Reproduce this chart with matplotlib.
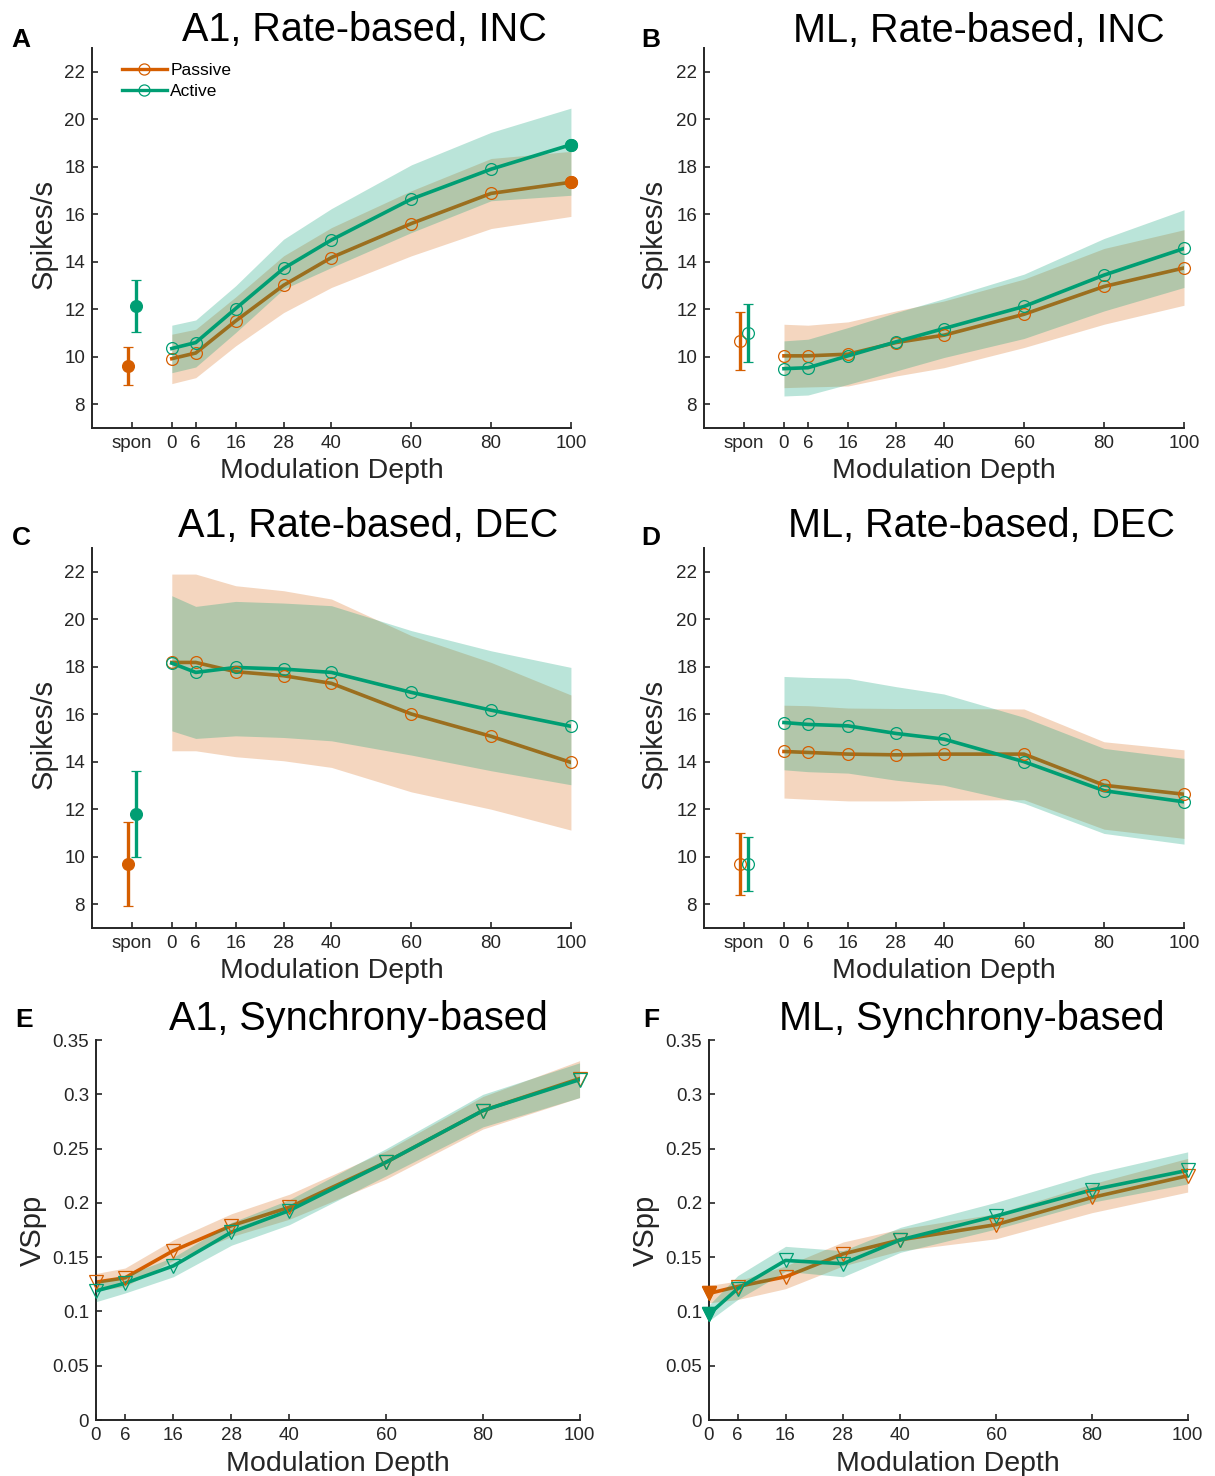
import matplotlib.pyplot as plt
from matplotlib.lines import Line2D

plt.rcParams['font.family'] = ['Liberation Sans', 'DejaVu Sans']

# colours
PASSIVE = '#d55e00'
ACTIVE = '#009e73'
INK = '#262626'

# modulation depths (%)
depth = [0, 6, 16, 28, 40, 60, 80, 100]
rate_ticks = [-10, 0, 6, 16, 28, 40, 60, 80, 100]
rate_ticklabels = ['spon', '0', '6', '16', '28', '40', '60', '80', '100']
sync_ticklabels = ['0', '6', '16', '28', '40', '60', '80', '100']

# --- A: A1, rate-based, INC ---
a_pas = [9.92, 10.16, 11.51, 13.01, 14.18, 15.61, 16.88, 17.35]
a_pas_lo = [8.87, 9.12, 10.46, 11.86, 12.92, 14.25, 15.40, 15.91]
a_pas_hi = [10.95, 11.16, 12.52, 14.25, 15.44, 16.99, 18.35, 18.65]
a_act = [10.35, 10.60, 12.03, 13.72, 14.92, 16.64, 17.90, 18.93]
a_act_lo = [9.33, 9.57, 11.02, 12.85, 13.76, 15.23, 16.57, 16.80]
a_act_hi = [11.33, 11.55, 12.99, 14.95, 16.24, 18.08, 19.45, 20.47]
a_spon_pas = [9.62, 8.83, 10.42]   # mean, low, high
a_spon_act = [12.12, 11.06, 13.23]

# --- B: ML, rate-based, INC ---
b_pas = [10.04, 10.04, 10.11, 10.60, 10.91, 11.79, 12.96, 13.74]
b_pas_lo = [8.70, 8.73, 8.77, 9.19, 9.54, 10.39, 11.37, 12.17]
b_pas_hi = [11.37, 11.33, 11.47, 11.93, 12.35, 13.27, 14.56, 15.35]
b_act = [9.50, 9.54, 10.04, 10.63, 11.19, 12.12, 13.44, 14.56]
b_act_lo = [8.35, 8.39, 8.84, 9.40, 9.97, 10.77, 11.93, 12.92]
b_act_hi = [10.67, 10.74, 11.23, 11.86, 12.45, 13.48, 14.98, 16.19]
b_spon_pas = [10.65, 9.45, 11.90]
b_spon_act = [11.02, 9.78, 12.24]

# --- C: A1, rate-based, DEC ---
c_pas = [18.18, 18.18, 17.79, 17.62, 17.30, 16.01, 15.07, 13.97]
c_pas_lo = [14.46, 14.46, 14.21, 14.04, 13.76, 12.73, 12.00, 11.12]
c_pas_hi = [21.90, 21.90, 21.41, 21.20, 20.85, 19.31, 18.18, 16.81]
c_act = [18.15, 17.76, 17.97, 17.90, 17.76, 16.92, 16.17, 15.49]
c_act_lo = [15.30, 14.98, 15.09, 15.02, 14.88, 14.28, 13.62, 13.03]
c_act_hi = [20.99, 20.54, 20.75, 20.68, 20.57, 19.52, 18.67, 17.97]
c_spon_pas = [9.69, 7.93, 11.48]
c_spon_act = [11.79, 9.97, 13.62]

# --- D: ML, rate-based, DEC ---
d_pas = [14.43, 14.39, 14.32, 14.29, 14.32, 14.32, 13.01, 12.63]
d_pas_lo = [12.47, 12.42, 12.35, 12.35, 12.38, 12.40, 11.16, 10.77]
d_pas_hi = [16.38, 16.36, 16.26, 16.24, 16.24, 16.22, 14.84, 14.50]
d_act = [15.65, 15.57, 15.51, 15.19, 14.95, 14.00, 12.78, 12.31]
d_act_lo = [13.66, 13.58, 13.52, 13.22, 13.01, 12.25, 10.98, 10.53]
d_act_hi = [17.59, 17.55, 17.51, 17.16, 16.85, 15.87, 14.56, 14.14]
d_spon_pas = [9.68, 8.40, 10.98]
d_spon_act = [9.70, 8.56, 10.84]

# --- E: A1, synchrony-based ---
e_pas = [0.127, 0.131, 0.156, 0.179, 0.196, 0.2375, 0.285, 0.3145]
e_pas_lo = [0.119, 0.123, 0.147, 0.169, 0.185, 0.222, 0.268, 0.297]
e_pas_hi = [0.135, 0.140, 0.166, 0.190, 0.208, 0.248, 0.298, 0.331]
e_act = [0.119, 0.126, 0.142, 0.173, 0.193, 0.2375, 0.285, 0.3135]
e_act_lo = [0.109, 0.117, 0.132, 0.161, 0.180, 0.225, 0.270, 0.297]
e_act_hi = [0.128, 0.133, 0.150, 0.182, 0.203, 0.250, 0.300, 0.329]

# --- F: ML, synchrony-based ---
f_pas = [0.1166, 0.123, 0.132, 0.153, 0.166, 0.180, 0.205, 0.225]
f_pas_lo = [0.108, 0.111, 0.121, 0.142, 0.156, 0.167, 0.191, 0.210]
f_pas_hi = [0.124, 0.128, 0.142, 0.164, 0.176, 0.190, 0.2175, 0.241]
f_act = [0.0975, 0.121, 0.147, 0.144, 0.166, 0.188, 0.212, 0.230]
f_act_lo = [0.0914, 0.111, 0.137, 0.132, 0.1545, 0.176, 0.2006, 0.2175]
f_act_hi = [0.106, 0.133, 0.160, 0.156, 0.1775, 0.2006, 0.2268, 0.247]


def draw_panel(ax, pas, pas_lo, pas_hi, act, act_lo, act_hi, marker, ms,
               filled=(), spon_pas=None, spon_act=None, spon_filled=False):
    # passive band + line, then active band over it (MATLAB-like stacking)
    ax.fill_between(depth, pas_lo, pas_hi, color=PASSIVE, alpha=0.25, lw=0, zorder=1)
    ax.plot(depth, pas, color=PASSIVE, lw=2.6, zorder=2)
    ax.fill_between(depth, act_lo, act_hi, color=ACTIVE, alpha=0.27, lw=0, zorder=3)
    ax.plot(depth, act, color=ACTIVE, lw=2.6, zorder=4)
    for vals, col in [(pas, PASSIVE), (act, ACTIVE)]:
        ax.plot(depth, vals, ls='none', marker=marker, ms=ms, mfc='none',
                mec=col, mew=0.9, zorder=5, clip_on=False)
        for i in filled:
            ax.plot([depth[i]], [vals[i]], ls='none', marker=marker, ms=ms,
                    mfc=col, mec=col, zorder=6, clip_on=False)
    if spon_pas is not None:
        for xs, sp, col in [(-11, spon_pas, PASSIVE), (-9, spon_act, ACTIVE)]:
            ax.errorbar([xs], [sp[0]], yerr=[[sp[0] - sp[1]], [sp[2] - sp[0]]],
                        fmt='o', ms=ms, color=col, mfc=col if spon_filled else 'none',
                        mec=col, mew=0.9, elinewidth=2.4, capsize=3.5, capthick=2.4,
                        zorder=6)
        ax.set_xlim(-20, 100)
        ax.set_xticks(rate_ticks)
        ax.set_xticklabels(rate_ticklabels)
        ax.set_ylim(7, 23)
        ax.set_yticks(range(8, 23, 2))
        ax.set_ylabel('Spikes/s', fontsize=21, color=INK)
    else:
        ax.set_xlim(0, 100)
        ax.set_xticks(depth)
        ax.set_xticklabels(sync_ticklabels)
        ax.set_ylim(0, 0.35)
        ax.set_yticks([0, 0.05, 0.1, 0.15, 0.2, 0.25, 0.3, 0.35])
        ax.set_yticklabels(['0', '0.05', '0.1', '0.15', '0.2', '0.25', '0.3', '0.35'])
        ax.set_ylabel('VSpp', fontsize=21, color=INK)
    ax.set_xlabel('Modulation Depth', fontsize=20.5, color=INK)
    for s in ['top', 'right']:
        ax.spines[s].set_visible(False)
    for s in ['left', 'bottom']:
        ax.spines[s].set_linewidth(1.4)
        ax.spines[s].set_color(INK)
    ax.tick_params(direction='in', length=4, width=1.2, colors=INK,
                   labelsize=13.5, pad=5)


fig = plt.figure(figsize=(12.15, 14.76), dpi=100)
H = 380 / 1476
axA = fig.add_axes([0.0757, 0.7100, 0.3942, H])
axB = fig.add_axes([0.5794, 0.7100, 0.3951, H])
axC = fig.add_axes([0.0757, 0.3713, 0.3942, H])
axD = fig.add_axes([0.5794, 0.3713, 0.3951, H])
axE = fig.add_axes([0.0790, 0.0379, 0.3980, H])
axF = fig.add_axes([0.5835, 0.0379, 0.3940, H])

draw_panel(axA, a_pas, a_pas_lo, a_pas_hi, a_act, a_act_lo, a_act_hi, 'o', 8.5,
           filled=[7], spon_pas=a_spon_pas, spon_act=a_spon_act, spon_filled=True)
draw_panel(axB, b_pas, b_pas_lo, b_pas_hi, b_act, b_act_lo, b_act_hi, 'o', 8.5,
           spon_pas=b_spon_pas, spon_act=b_spon_act)
draw_panel(axC, c_pas, c_pas_lo, c_pas_hi, c_act, c_act_lo, c_act_hi, 'o', 8.5,
           spon_pas=c_spon_pas, spon_act=c_spon_act, spon_filled=True)
draw_panel(axD, d_pas, d_pas_lo, d_pas_hi, d_act, d_act_lo, d_act_hi, 'o', 8.5,
           spon_pas=d_spon_pas, spon_act=d_spon_act)
draw_panel(axE, e_pas, e_pas_lo, e_pas_hi, e_act, e_act_lo, e_act_hi, 'v', 10.5)
draw_panel(axF, f_pas, f_pas_lo, f_pas_hi, f_act, f_act_lo, f_act_hi, 'v', 10.5,
           filled=[0])

# label placement
for ax, lx in [(axA, -0.071), (axB, -0.075), (axC, -0.071), (axD, -0.075)]:
    ax.yaxis.set_label_coords(lx, 0.51)
    ax.xaxis.set_label_coords(0.5, -0.078)
axE.yaxis.set_label_coords(-0.101, 0.5)
axF.yaxis.set_label_coords(-0.102, 0.5)
axE.xaxis.set_label_coords(0.5, -0.082)
axF.xaxis.set_label_coords(0.5, -0.082)

# legend in A
handles = [Line2D([], [], color=PASSIVE, lw=2.4, marker='o', ms=8, mfc='none', mew=0.9),
           Line2D([], [], color=ACTIVE, lw=2.4, marker='o', ms=8, mfc='none', mew=0.9)]
axA.legend(handles, ['Passive', 'Active'], loc='upper left', bbox_to_anchor=(0.062, 0.96),
           frameon=False, fontsize=12.5, handlelength=2.6, handletextpad=0.2,
           labelspacing=0.3, borderpad=0, borderaxespad=0)

# titles and panel letters
titles = [(364, 41, 'A1, Rate-based, INC'), (979, 42, 'ML, Rate-based, INC'),
          (368, 537, 'A1, Rate-based, DEC'), (981, 537, 'ML, Rate-based, DEC'),
          (358, 1030, 'A1, Synchrony-based'), (972, 1030, 'ML, Synchrony-based')]
for px, py, t in titles:
    fig.text(px / 1215, 1 - py / 1476, t, ha='center', va='baseline', fontsize=28.5)

letters = [(11, 47, 'A'), (641, 47, 'B'), (12, 545, 'C'), (641, 545, 'D'),
           (15, 1027, 'E'), (643, 1027, 'F')]
for px, py, t in letters:
    fig.text(px / 1215, 1 - py / 1476, t, ha='left', va='baseline', fontsize=19,
             fontweight='bold')

fig.savefig('out.png', dpi=100)
